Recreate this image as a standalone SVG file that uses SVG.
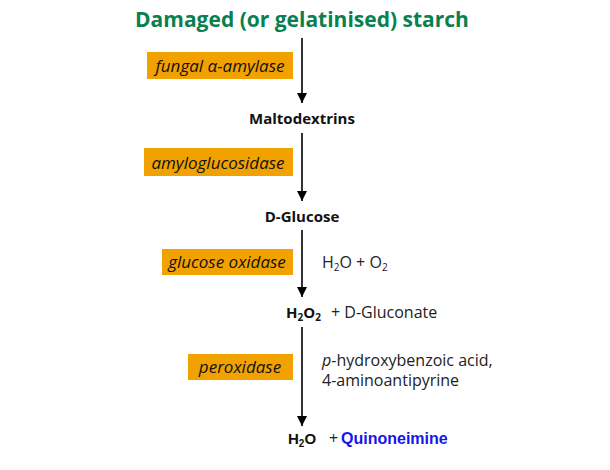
<svg xmlns="http://www.w3.org/2000/svg" width="610" height="470" viewBox="0 0 610 470">
<defs>
<marker id="ah" viewBox="0 0 10 10" refX="10" refY="5" markerWidth="10" markerHeight="10" markerUnits="userSpaceOnUse" orient="auto">
<path d="M0,0 L10,5 L0,10 z" fill="#000"/>
</marker>
<style>
.t{font-family:"Open Sans","Liberation Sans",sans-serif;fill:#111}
.b{font-weight:bold;font-size:15px}
.enz{fill:#f2a200}
.ei{font-family:"Open Sans","Liberation Sans",sans-serif;font-style:italic;font-size:17px;fill:#111}
.side{font-family:"Open Sans","Liberation Sans",sans-serif;font-size:16px;fill:#222}
.ar{stroke:#000;stroke-width:1.6;fill:none}
</style>
</defs>
<rect width="610" height="470" fill="#fff"/>
<g id="title"><text class="t" x="302" y="27" text-anchor="middle" font-size="21" font-weight="bold" style="fill:#0a8050">Damaged (or gelatinised) starch</text></g>
<g id="connectors">
<line class="ar" x1="302" y1="38" x2="302" y2="103" marker-end="url(#ah)"/>
<line class="ar" x1="302" y1="133" x2="302" y2="201" marker-end="url(#ah)"/>
<line class="ar" x1="302" y1="230" x2="302" y2="297" marker-end="url(#ah)"/>
<line class="ar" x1="302" y1="327" x2="302" y2="426" marker-end="url(#ah)"/>
</g>
<g id="enz1"><rect class="enz" x="147" y="52" width="146" height="27"/><text class="ei" x="220" y="72" text-anchor="middle">fungal α-amylase</text></g>
<g id="maltodextrins"><text class="t b" x="302" y="124" text-anchor="middle">Maltodextrins</text></g>
<g id="enz2"><rect class="enz" x="144" y="148" width="149" height="28"/><text class="ei" x="218" y="169" text-anchor="middle">amyloglucosidase</text></g>
<g id="glucose"><text class="t b" x="302" y="222" text-anchor="middle">D-Glucose</text></g>
<g id="enz3"><rect class="enz" x="162" y="249" width="131" height="26"/><text class="ei" x="227" y="268" text-anchor="middle">glucose oxidase</text></g>
<g id="cosub3"><text class="side" x="322" y="268">H<tspan font-size="10" dy="3">2</tspan><tspan dy="-3">O + O</tspan><tspan font-size="10" dy="3">2</tspan></text></g>
<g id="h2o2"><text class="t b" x="286" y="318">H<tspan font-size="10" dy="3">2</tspan><tspan dy="-3">O</tspan><tspan font-size="10" dy="3">2</tspan></text><text class="side" x="331" y="318">+ D-Gluconate</text></g>
<g id="enz4"><rect class="enz" x="188" y="354" width="105" height="26"/><text class="ei" x="240" y="373" text-anchor="middle">peroxidase</text></g>
<g id="cosub4"><text class="side" x="322" y="366" font-size="15.5"><tspan font-style="italic">p</tspan>-hydroxybenzoic acid,</text><text class="side" x="322" y="386" font-size="15.5">4-aminoantipyrine</text></g>
<g id="products"><text x="288" y="444" font-family="'Liberation Sans',Arial,sans-serif" font-weight="bold" font-size="15" fill="#111">H<tspan font-size="10" dy="3">2</tspan><tspan dy="-3">O</tspan></text><text class="side" x="329" y="444">+</text><text x="341" y="444" font-family="'Liberation Sans',Arial,sans-serif" font-weight="bold" font-size="16" fill="#1515ee">Quinoneimine</text></g>
</svg>
